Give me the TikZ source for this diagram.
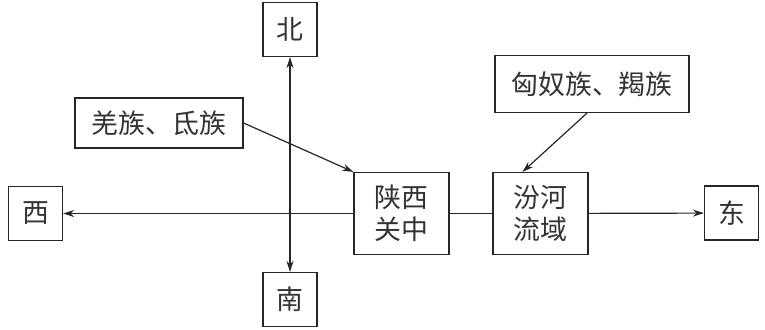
\documentclass[tikz,border=0pt]{standalone}
\usepackage{fontspec}
\newfontfamily\cjk{Noto Sans CJK SC}
\usetikzlibrary{arrows.meta}

\begin{document}
\begin{tikzpicture}[
    x=1bp, y=-1bp,
    place node/.style = {draw=black!85, line width=1.2bp, align=center, inner sep=0pt,
                         font=\cjk\fontsize{27}{32}\selectfont, text=black!80},
    dir node/.style   = {place node, minimum width=54bp, minimum height=54bp},
    flow/.style       = {draw=black!85, line width=1.2bp, -{Stealth[length=11bp,width=7bp]}}
]
\useasboundingbox (0,0) rectangle (765,329);

% --- Direcciones ---
\node[dir node] (bei)  at (290, 29.5)  {北};
\node[dir node] (nan)  at (290, 299.5) {南};
\node[dir node] (xi)   at (35.5, 213.5) {西};
\node[dir node] (dong) at (731.5, 213) {东};

% --- Regiones y pueblos ---
\node[place node, minimum width=95bp, minimum height=82bp] (shaanxi) at (401.5, 213.5) {陕西\\关中};
\node[place node, minimum width=95bp, minimum height=82bp] (fenhe)   at (540.5, 213.5) {汾河\\流域};
\node[place node, minimum width=168bp, minimum height=50bp] (qiang)  at (159, 123)  {羌族、氐族};
\node[place node, minimum width=194bp, minimum height=57bp] (xiongnu) at (592, 84) {匈奴族、羯族};

% --- Ejes ---
\draw[flow, {Stealth[length=11bp,width=7bp]}-{Stealth[length=11bp,width=7bp]}] (bei) -- (nan);
\draw[flow] (shaanxi) -- (xi);
\draw[draw=black!85, line width=1.2bp] (shaanxi) -- (fenhe);
\draw[flow] (fenhe) -- (dong);

% --- Migraciones ---
\draw[flow] (qiang.east) -- (shaanxi.north west);
\draw[flow] ([xshift=-5bp]xiongnu.south) -- ([xshift=-18bp]fenhe.north);

\end{tikzpicture}
\end{document}
